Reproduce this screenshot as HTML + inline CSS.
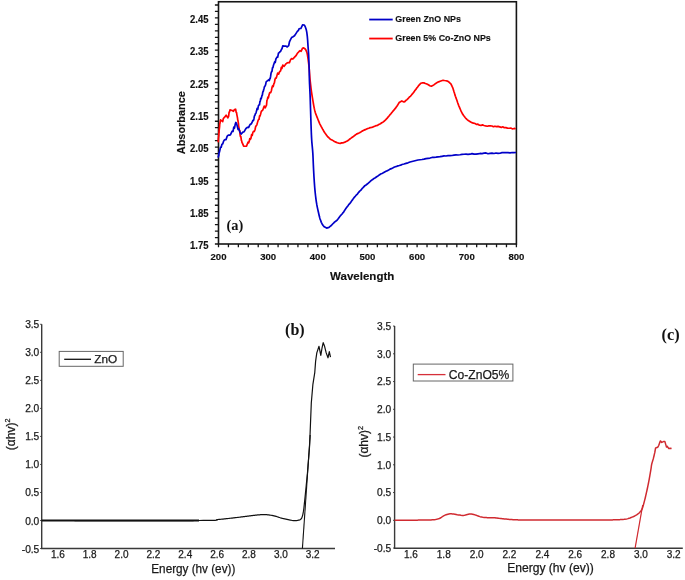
<!DOCTYPE html>
<html><head><meta charset="utf-8"><style>
html,body{margin:0;padding:0;background:#fff;}
body{width:685px;height:580px;overflow:hidden;}
svg{display:block;}
svg{will-change:transform;}
.ab{font-family:"Liberation Sans",sans-serif;font-weight:bold;fill:#111;stroke:#111;stroke-width:0.15px;}
.ar{font-family:"Liberation Sans",sans-serif;fill:#1a1a1a;stroke:#1a1a1a;stroke-width:0.25px;}
.sb{font-family:"Liberation Serif",serif;font-weight:bold;fill:#111;}
</style></head><body>
<svg width="685" height="580" viewBox="0 0 685 580">
<rect x="218.5" y="1.75" width="297.90" height="242.25" fill="none" stroke="#151515" stroke-width="1.6"/>
<path d="M214.9 244.00H218.5 M214.9 237.54H218.5 M214.9 231.08H218.5 M214.9 224.62H218.5 M214.9 218.16H218.5 M214.9 211.70H218.5 M214.9 205.24H218.5 M214.9 198.78H218.5 M214.9 192.32H218.5 M214.9 185.86H218.5 M214.9 179.40H218.5 M214.9 172.94H218.5 M214.9 166.48H218.5 M214.9 160.02H218.5 M214.9 153.56H218.5 M214.9 147.10H218.5 M214.9 140.64H218.5 M214.9 134.18H218.5 M214.9 127.72H218.5 M214.9 121.26H218.5 M214.9 114.80H218.5 M214.9 108.34H218.5 M214.9 101.88H218.5 M214.9 95.42H218.5 M214.9 88.96H218.5 M214.9 82.50H218.5 M214.9 76.04H218.5 M214.9 69.58H218.5 M214.9 63.12H218.5 M214.9 56.66H218.5 M214.9 50.20H218.5 M214.9 43.74H218.5 M214.9 37.28H218.5 M214.9 30.82H218.5 M214.9 24.36H218.5 M214.9 17.90H218.5 M214.9 11.44H218.5 M214.9 4.98H218.5 M218.50 244.0V247.2 M228.43 244.0V247.2 M238.36 244.0V247.2 M248.29 244.0V247.2 M258.22 244.0V247.2 M268.15 244.0V247.2 M278.08 244.0V247.2 M288.01 244.0V247.2 M297.94 244.0V247.2 M307.87 244.0V247.2 M317.80 244.0V247.2 M327.73 244.0V247.2 M337.66 244.0V247.2 M347.59 244.0V247.2 M357.52 244.0V247.2 M367.45 244.0V247.2 M377.38 244.0V247.2 M387.31 244.0V247.2 M397.24 244.0V247.2 M407.17 244.0V247.2 M417.10 244.0V247.2 M427.03 244.0V247.2 M436.96 244.0V247.2 M446.89 244.0V247.2 M456.82 244.0V247.2 M466.75 244.0V247.2 M476.68 244.0V247.2 M486.61 244.0V247.2 M496.54 244.0V247.2 M506.47 244.0V247.2 M516.40 244.0V247.2" stroke="#151515" stroke-width="1.3" fill="none"/>
<text x="208.5" y="249.20" text-anchor="end" class="ab" font-size="10.4" textLength="18.5" lengthAdjust="spacingAndGlyphs">1.75</text>
<text x="208.5" y="216.90" text-anchor="end" class="ab" font-size="10.4" textLength="18.5" lengthAdjust="spacingAndGlyphs">1.85</text>
<text x="208.5" y="184.60" text-anchor="end" class="ab" font-size="10.4" textLength="18.5" lengthAdjust="spacingAndGlyphs">1.95</text>
<text x="208.5" y="152.30" text-anchor="end" class="ab" font-size="10.4" textLength="18.5" lengthAdjust="spacingAndGlyphs">2.05</text>
<text x="208.5" y="120.00" text-anchor="end" class="ab" font-size="10.4" textLength="18.5" lengthAdjust="spacingAndGlyphs">2.15</text>
<text x="208.5" y="87.70" text-anchor="end" class="ab" font-size="10.4" textLength="18.5" lengthAdjust="spacingAndGlyphs">2.25</text>
<text x="208.5" y="55.40" text-anchor="end" class="ab" font-size="10.4" textLength="18.5" lengthAdjust="spacingAndGlyphs">2.35</text>
<text x="208.5" y="23.10" text-anchor="end" class="ab" font-size="10.4" textLength="18.5" lengthAdjust="spacingAndGlyphs">2.45</text>
<text x="218.50" y="260.4" text-anchor="middle" class="ab" font-size="9.6">200</text>
<text x="268.15" y="260.4" text-anchor="middle" class="ab" font-size="9.6">300</text>
<text x="317.80" y="260.4" text-anchor="middle" class="ab" font-size="9.6">400</text>
<text x="367.45" y="260.4" text-anchor="middle" class="ab" font-size="9.6">500</text>
<text x="417.10" y="260.4" text-anchor="middle" class="ab" font-size="9.6">600</text>
<text x="466.75" y="260.4" text-anchor="middle" class="ab" font-size="9.6">700</text>
<text x="516.40" y="260.4" text-anchor="middle" class="ab" font-size="9.6">800</text>
<text x="362.2" y="280.1" text-anchor="middle" class="ab" font-size="11.4" textLength="64.2" lengthAdjust="spacingAndGlyphs">Wavelength</text>
<text transform="translate(184.6 122.7) rotate(-90)" x="0" y="0" text-anchor="middle" class="ab" font-size="10.9" textLength="63" lengthAdjust="spacingAndGlyphs">Absorbance</text>
<text x="226.5" y="229.7" class="sb" font-size="14.4">(a)</text>
<path d="M369.2 19.55H392.7" stroke="#0000C8" stroke-width="1.8"/>
<path d="M369.2 38.55H392.7" stroke="#F00" stroke-width="1.8"/>
<text x="395.3" y="22.4" class="ab" font-size="9.8" textLength="65.6" lengthAdjust="spacingAndGlyphs">Green ZnO NPs</text>
<text x="395.3" y="41.3" class="ab" font-size="9.8" textLength="95.5" lengthAdjust="spacingAndGlyphs">Green 5% Co-ZnO NPs</text>
<polyline points="218.2,140.29 218.28,141.73 218.37,138.85 218.49,137.72 218.62,136.49 218.76,135.79 218.91,132.69 219.05,132.63 219.2,130 219.39,128.4 219.58,126.67 219.77,123.53 219.99,123.32 220.23,121.3 220.5,119.81 222.7,121.6 223.3,118.58 223.85,117.98 224.4,117.48 226.1,115.27 226.92,116.33 227.8,117.96 228.21,117.13 228.64,116.18 229.1,112.25 229.55,111.9 230,109.85 232.2,110.53 233.42,111.24 234.5,109.52 235.6,109.19 235.88,110.66 236.18,112.33 236.51,112.46 236.88,114.87 237.3,116.82 237.5,117.94 237.71,119.73 237.94,120.37 238.17,122.06 238.42,123.41 238.67,126.35 238.92,127.18 239.17,129.26 239.42,130.95 239.66,130.33 239.88,132.57 240.1,134.93 240.44,136.54 240.75,136.27 241.05,137.93 241.35,140.47 241.65,140.75 241.96,142.46 242.3,142.92 243.65,146.11 245.1,146.25 246.52,146.08 248.1,142.06 248.63,142.81 249.19,141.48 249.77,138.6 250.38,139.41 250.99,138.22 251.6,134.57 252.2,135.46 252.9,132.4 253.6,131.34 254.3,131.54 255,129.74 255.7,126.32 256.4,125.59 256.93,124.57 257.46,122.64 258,120.75 258.54,119.62 259.06,119.36 259.57,115.83 260.05,116.13 260.5,114.62 261.29,111.4 261.99,110.72 262.64,110.21 263.3,108.64 264.26,106.02 265.2,107.83 266,106.07 266.53,105.01 266.92,100.59 267.4,99.2 267.87,97.14 268.4,97.96 268.98,94.98 269.6,92.99 270.15,92.5 270.75,92.53 271.37,90.76 271.99,87.57 272.6,85.75 273.2,86.55 273.8,83.95 274.4,82.8 274.97,79.5 275.5,78.07 276.26,78.07 276.94,75.64 277.7,73.02 278.64,74.07 279.66,71.68 280.6,70.8 281.3,67.37 281.93,68.49 282.8,65 284.1,66.37 285.65,64.18 287.2,62.82 288.32,62.57 289.44,62.73 290.55,59.82 291.6,58.59 292.89,59.05 294.1,57.62 295.3,56.33 296.24,55.32 297.19,53.53 298.1,52.54 298.9,51.74 300.06,50.65 301.1,51.28 302.44,48.39 303.7,47.9 305.2,49 306.03,50.3 306.8,52.1 307.17,53.53 307.48,55.19 307.8,57.2 308.02,58.66 308.25,60.29 308.48,62.03 308.7,63.79 308.9,65.5 309.07,67.19 309.22,68.92 309.35,70.63 309.48,72.27 309.6,73.8 309.72,75.4 309.82,76.78 309.93,78.21 310.1,80 310.23,81.26 310.38,82.64 310.54,84.12 310.72,85.66 310.91,87.23 311.1,88.79 311.3,90.3 311.5,91.78 311.72,93.27 311.94,94.76 312.17,96.24 312.4,97.73 312.65,99.22 312.9,100.7 313.16,102.2 313.42,103.74 313.7,105.28 313.98,106.8 314.27,108.28 314.58,109.69 314.9,111 315.37,112.65 315.87,114.14 316.4,115.53 316.94,116.89 317.5,118.3 318.07,119.74 318.65,121.18 319.26,122.62 319.9,124.06 320.6,125.37 321.24,126.68 321.92,127.81 322.64,129.18 323.37,130.33 324.09,131.8 324.8,132.82 325.86,134.18 326.92,135.66 327.95,137.06 328.9,137.74 330.28,139.2 332,139.97 333.11,140.63 334.41,141.54 335.83,142.12 337.32,142.78 338.8,143.18 340.25,143.33 341.72,142.93 343.24,142.78 344.86,142.17 346.6,141.35 347.64,140.68 348.74,139.95 349.88,139.02 351.05,138.17 352.24,137.23 353.44,136.58 354.65,135.49 355.83,134.61 357,133.83 358.28,133.38 359.55,132.68 360.82,131.92 362.08,131.12 363.35,130.48 364.64,129.9 365.96,129.37 367.3,128.66 368.71,128.21 370.21,127.59 371.74,127.35 373.29,126.84 374.8,126.16 376.25,125.54 377.59,125.31 378.8,124.52 380.42,123.73 381.76,122.81 382.93,122.15 384.07,121.28 385.3,120.2 386.26,119.14 387.24,118.2 388.24,116.86 389.22,115.78 390.17,114.55 391.07,113.56 391.9,112.42 392.94,111.17 393.87,110.15 394.72,109.06 395.53,108.18 396.3,107.11 397.23,105.8 398.09,104.33 398.88,103.06 399.6,102.15 401.8,100.96 403.9,101.93 404.78,101.63 405.86,100.44 407.04,99.61 408.25,98.42 409.4,97.02 410.33,96.34 411.27,95.3 412.22,94.08 413.15,92.99 414.05,91.9 414.9,90.56 415.87,89.42 416.79,88.08 417.67,86.93 418.51,85.76 419.3,84.83 420.96,83.21 422.6,82.76 423.96,82.88 425.42,83.49 426.9,83.99 428.36,84.78 429.83,85.77 431.3,86.24 432.77,85.53 434.23,84.64 435.7,83.42 437.17,82.61 438.63,81.85 440.1,81.27 441.57,80.74 443.04,80.25 444.5,80.52 445.98,80.72 447.44,81.1 448.8,81.91 449.97,83.02 451.04,84.15 452.1,86.39 452.56,87.3 453.01,88.47 453.46,89.91 453.91,91.55 454.38,92.86 454.87,94.63 455.4,96.29 455.84,97.36 456.3,98.66 456.79,100.1 457.28,101.6 457.78,103.06 458.29,104.41 458.8,105.78 459.31,106.84 459.8,108.06 460.51,109.74 461.19,111.45 461.87,112.68 462.58,114.11 463.35,115.13 464.2,116.32 465.14,117.52 466.13,118.71 467.17,119.67 468.29,120.54 469.46,121.19 470.7,122.01 472.01,122.61 473.39,123.16 474.82,123.32 476.33,124.43 477.89,124.18 479.5,125.23 480.95,125.46 482.46,124.86 484.02,125.45 485.61,125.94 487.22,126.22 488.82,125.9 490.4,125.89 491.94,125.98 493.44,126.76 494.94,126.2 496.46,126.63 498.02,126.35 499.66,126.84 501.4,127.41 502.75,126.83 504.26,127.65 505.87,127.59 507.53,128.16 509.19,128.24 510.79,128.05 512.28,128.87 513.62,128.7 514.74,128.45 515.6,129" fill="none" stroke="#F00" stroke-width="1.7" stroke-linejoin="round"/>
<polyline points="218.2,157.67 218.41,156.07 218.7,156.02 219.06,152.5 219.46,152.09 219.9,150 220.51,147.4 221.19,147.18 221.93,144.28 222.7,144 223.51,141.43 224.37,140.03 225.24,139.64 226.1,139.58 227.23,136.02 228.34,135.06 229.4,135.08 230.39,134.94 231.32,132.8 232.2,131.09 233.04,131.38 233.82,127 234.5,127.98 235.26,124.08 235.9,122.43 236.58,123.63 237.3,126.33 238.1,129.5 239,129.24 240.1,132.42 241.2,134.02 242.9,132.12 244.17,131.7 245.7,128.89 246.59,127.94 247.56,127.27 248.55,127.52 249.5,125.58 250.38,124.2 251.22,124.03 252.05,122.46 252.9,120.4 253.4,120.66 253.92,118.92 254.43,115.95 254.95,115.29 255.46,113.53 255.94,113.09 256.4,111.39 257.13,108.45 257.79,109.35 258.44,105.61 259.1,104.95 259.5,104.8 259.9,101.66 260.3,101.25 260.71,98.43 261.11,98.83 261.51,97.66 261.9,95.72 262.35,95.09 262.8,91.86 263.24,91.5 263.67,89.74 264.09,88.32 264.5,86.67 265.08,86.01 265.62,84.64 266.16,81.82 266.7,81.39 268.9,79.58 269.33,80.54 269.75,79.02 270.17,78.46 270.62,76.24 271.1,72.95 271.53,71.88 271.99,71.28 272.46,67.86 272.95,67.67 273.46,65.29 274,63.65 274.59,61.96 275.23,62.51 275.89,59.01 276.55,57.85 277.16,56.88 277.7,57.11 278.52,52.98 279.17,52.8 279.9,51.75 280.57,51.4 281.3,49.73 282.05,48.52 282.8,45.84 284.3,46.06 285.8,46.08 287.26,46.92 288.7,45.67 289.43,41.97 290.15,40.42 290.88,38.95 291.6,37.6 293.04,36.72 294.5,35.77 296.09,33.35 297.5,31.11 298.31,30.7 298.9,29.11 300.1,28.5 300.9,28.5 301.86,26.29 302.7,24.75 304.2,25.05 305.03,26.24 305.8,28.3 306.19,29.55 306.51,30.86 306.8,32.4 307,33.78 307.18,35.3 307.35,36.92 307.5,38.6 307.61,39.98 307.71,41.4 307.8,42.86 307.9,44.36 308,45.9 308.12,47.5 308.25,49.16 308.38,50.84 308.5,52.5 308.6,54.1 308.68,55.6 308.74,57.04 308.79,58.45 308.84,59.89 308.9,61.4 308.96,62.96 309.02,64.55 309.09,66.19 309.15,67.9 309.2,69.7 309.23,71.02 309.25,72.35 309.27,73.7 309.28,75.12 309.31,76.62 309.35,78.24 309.4,80 309.45,81.21 309.5,82.5 309.56,83.85 309.63,85.25 309.7,86.69 309.77,88.16 309.84,89.64 309.91,91.13 309.98,92.61 310.04,94.07 310.1,95.5 310.15,96.91 310.2,98.32 310.25,99.72 310.3,101.13 310.34,102.54 310.38,103.95 310.43,105.36 310.47,106.77 310.51,108.18 310.56,109.59 310.6,111 310.65,112.42 310.69,113.86 310.73,115.31 310.78,116.76 310.82,118.21 310.87,119.65 310.91,121.09 310.96,122.5 311,123.9 311.05,125.26 311.1,126.6 311.16,128.19 311.22,129.74 311.27,131.25 311.33,132.73 311.39,134.2 311.46,135.65 311.53,137.1 311.61,138.55 311.7,140 311.8,141.45 311.92,142.9 312.05,144.33 312.18,145.76 312.32,147.19 312.45,148.61 312.58,150.04 312.7,151.47 312.8,152.9 312.89,154.34 312.97,155.78 313.03,157.23 313.1,158.68 313.15,160.12 313.21,161.57 313.27,163.02 313.33,164.46 313.4,165.9 313.47,167.34 313.54,168.77 313.61,170.21 313.69,171.64 313.76,173.07 313.84,174.5 313.92,175.94 314.01,177.37 314.1,178.8 314.2,180.24 314.29,181.69 314.39,183.14 314.5,184.6 314.6,186.05 314.72,187.49 314.84,188.91 314.97,190.32 315.1,191.7 315.26,193.23 315.43,194.75 315.6,196.25 315.78,197.72 315.97,199.18 316.17,200.62 316.38,202.02 316.6,203.4 316.87,204.97 317.18,206.54 317.49,208.08 317.82,209.58 318.13,211 318.43,212.31 318.7,213.5 319.09,215.22 319.41,216.59 319.73,217.8 320.1,219.07 320.68,220.48 321.32,222.37 322,223.71 323.12,225.5 324.3,226.82 326.6,228.06 329,227.36 330.12,226.42 331.3,225.55 332.64,223.98 334.1,222.53 335.18,221.68 336.32,220.76 337.4,219.84 338.37,218.54 339.29,217.24 340.2,216.06 341.14,214.93 342.08,213.98 343,212.71 343.65,212.08 344.27,210.95 345.6,208.86 346.24,208.04 346.98,207.07 347.82,205.95 348.72,204.63 349.68,203.65 350.66,202.41 351.65,200.9 352.64,199.63 353.59,198.26 354.5,197.14 355.5,196.03 356.54,194.78 357.6,193.79 358.66,192.33 359.69,191.13 360.67,190.42 361.58,189.26 362.4,188.22 363.1,187.62 364.84,185.68 366,184.94 367.25,184.03 368.63,182.83 370,181.64 371.33,180.42 372.67,179.46 374,178.41 375.33,177.71 376.67,176.72 378,175.94 379.33,174.92 380.67,174.07 382,173.52 383.33,172.84 384.67,172.06 386,171.34 387.33,170.67 388.67,169.98 390,169.15 391.33,168.66 392.67,168.01 394,167.31 395.33,166.77 396.67,166.34 398,165.83 399.33,165.51 400.67,165.14 402,164.48 404,164.03 406,163.43 408,162.83 410,162.04 412,161.46 414,160.96 416,160.48 418,160.03 420,159.78 422,159.49 424,159.08 426,158.58 428,158.31 430,158.04 432,157.45 434,157.39 436,157.21 438,156.9 440,156.64 442,156.3 444,155.96 446,155.99 448,155.61 450,155.61 452,155.5 454,155.1 456,154.94 458,155.01 460,154.78 462,154.42 464,154.27 466,154.16 468,154.35 470,154.2 472,153.65 474,154.17 476,154.21 478,153.83 480,153.47 482,153.57 484,153.12 486,152.94 488,153.74 490,153.38 492,153.21 494,153.52 496,153.02 498,153.36 500,153.27 502,152.67 504,152.66 506,152.66 508,152.57 510,152.85 512.12,152.53 514,152.63 516,152.5" fill="none" stroke="#0000C8" stroke-width="1.7" stroke-linejoin="round"/>
<path d="M41.7 324.3V548.5H335.0" fill="none" stroke="#3a3a3a" stroke-width="1.4"/>
<path d="M40.2 324.29H41.7 M40.2 352.32H41.7 M40.2 380.35H41.7 M40.2 408.38H41.7 M40.2 436.41H41.7 M40.2 464.44H41.7 M40.2 492.47H41.7 M40.2 520.50H41.7 M40.2 548.53H41.7" stroke="#333" stroke-width="1"/>
<text x="39.3" y="328.29" text-anchor="end" class="ar" font-size="10.2">3.5</text>
<text x="39.3" y="356.32" text-anchor="end" class="ar" font-size="10.2">3.0</text>
<text x="39.3" y="384.35" text-anchor="end" class="ar" font-size="10.2">2.5</text>
<text x="39.3" y="412.38" text-anchor="end" class="ar" font-size="10.2">2.0</text>
<text x="39.3" y="440.41" text-anchor="end" class="ar" font-size="10.2">1.5</text>
<text x="39.3" y="468.44" text-anchor="end" class="ar" font-size="10.2">1.0</text>
<text x="39.3" y="496.47" text-anchor="end" class="ar" font-size="10.2">0.5</text>
<text x="39.3" y="524.50" text-anchor="end" class="ar" font-size="10.2">0.0</text>
<text x="39.3" y="552.53" text-anchor="end" class="ar" font-size="10.2">-0.5</text>
<text x="57.83" y="557.8" text-anchor="middle" class="ar" font-size="10">1.6</text>
<text x="89.69" y="557.8" text-anchor="middle" class="ar" font-size="10">1.8</text>
<text x="121.55" y="557.8" text-anchor="middle" class="ar" font-size="10">2.0</text>
<text x="153.41" y="557.8" text-anchor="middle" class="ar" font-size="10">2.2</text>
<text x="185.27" y="557.8" text-anchor="middle" class="ar" font-size="10">2.4</text>
<text x="217.13" y="557.8" text-anchor="middle" class="ar" font-size="10">2.6</text>
<text x="248.99" y="557.8" text-anchor="middle" class="ar" font-size="10">2.8</text>
<text x="280.85" y="557.8" text-anchor="middle" class="ar" font-size="10">3.0</text>
<text x="312.71" y="557.8" text-anchor="middle" class="ar" font-size="10">3.2</text>
<text x="193.3" y="573.2" text-anchor="middle" class="ar" font-size="12" textLength="84" lengthAdjust="spacingAndGlyphs">Energy (hv (ev))</text>
<text transform="translate(14.6 450.2) rotate(-90)" class="ar" font-size="12">(αhv)<tspan font-size="7.2" dy="-4.7">2</tspan></text>
<text x="285.1" y="334.6" class="sb" font-size="16">(b)</text>
<rect x="59.2" y="351.4" width="64" height="14.9" fill="#fff" stroke="#666" stroke-width="1"/>
<path d="M64.2 359.3H91" stroke="#111" stroke-width="1.3"/>
<text x="94.2" y="363.4" class="ar" font-size="11.8">ZnO</text>
<polyline points="41.7,520.5 42.21,520.5 42.74,520.5 43.28,520.5 43.85,520.5 44.43,520.5 45.03,520.5 45.64,520.5 46.28,520.5 46.92,520.5 47.59,520.5 48.27,520.5 48.97,520.5 49.68,520.5 50.41,520.5 51.15,520.5 51.91,520.5 52.68,520.51 53.47,520.51 54.27,520.51 55.09,520.51 55.92,520.51 56.76,520.51 57.62,520.51 58.49,520.51 59.37,520.51 60.26,520.51 61.17,520.51 62.09,520.51 63.02,520.51 63.97,520.51 64.92,520.52 65.89,520.52 66.86,520.52 67.85,520.52 68.85,520.52 69.86,520.52 70.88,520.52 71.91,520.52 72.95,520.52 73.99,520.52 75.05,520.53 76.12,520.53 77.19,520.53 78.27,520.53 79.37,520.53 80.47,520.53 81.57,520.53 82.69,520.53 83.81,520.53 84.94,520.53 86.08,520.54 87.22,520.54 88.37,520.54 89.53,520.54 90.69,520.54 91.86,520.54 93.03,520.54 94.21,520.54 95.39,520.54 96.58,520.55 97.77,520.55 98.97,520.55 100.17,520.55 101.38,520.55 102.59,520.55 103.8,520.55 105.02,520.55 106.24,520.55 107.46,520.55 108.68,520.56 109.91,520.56 111.14,520.56 112.37,520.56 113.6,520.56 114.84,520.56 116.07,520.56 117.31,520.56 118.54,520.56 119.78,520.56 121.02,520.56 122.26,520.56 123.49,520.57 124.73,520.57 125.97,520.57 127.2,520.57 128.44,520.57 129.67,520.57 130.9,520.57 132.13,520.57 133.36,520.57 134.58,520.57 135.81,520.57 137.03,520.57 138.24,520.57 139.46,520.57 140.67,520.57 141.88,520.57 143.08,520.57 144.28,520.57 145.47,520.57 146.66,520.57 147.85,520.57 149.03,520.57 150.2,520.57 151.37,520.57 152.54,520.57 153.7,520.57 154.85,520.57 155.99,520.57 157.13,520.57 158.27,520.57 159.39,520.57 160.51,520.57 161.62,520.57 162.72,520.57 163.82,520.57 164.9,520.57 165.98,520.57 167.05,520.57 168.11,520.57 169.16,520.57 170.2,520.57 171.24,520.57 172.26,520.57 173.27,520.56 174.27,520.56 175.27,520.56 176.25,520.56 177.22,520.56 178.18,520.56 179.12,520.56 180.06,520.56 180.98,520.55 181.89,520.55 182.79,520.55 183.68,520.55 184.56,520.55 185.42,520.55 186.26,520.54 187.1,520.54 187.92,520.54 188.73,520.54 189.52,520.54 190.3,520.53 191.06,520.53 191.81,520.53 192.54,520.53 193.26,520.53 193.96,520.52 194.65,520.52 195.32,520.52 195.98,520.51 196.62,520.51 197.24,520.51 197.84,520.51 198.43,520.5 199,520.5 203.27,520.47 206.83,520.44 209.74,520.41 212.08,520.37 213.88,520.33 215.23,520.29 216.17,520.25 216.76,520.2 217.08,520.15 217.17,520.1 217.1,520.04 216.94,519.98 216.73,519.92 216.54,519.86 216.43,519.79 216.46,519.72 216.69,519.65 217.18,519.58 218,519.5 219,519.42 220.01,519.33 221.03,519.24 222.05,519.14 223.08,519.04 224.1,518.94 225.13,518.83 226.15,518.72 227.18,518.61 228.2,518.5 229.21,518.39 230.21,518.27 231.21,518.16 232.19,518.04 233.17,517.93 234.12,517.82 235.07,517.71 235.99,517.6 236.9,517.5 238.03,517.37 239.14,517.23 240.24,517.1 241.32,516.96 242.38,516.83 243.43,516.69 244.46,516.55 245.47,516.42 246.47,516.29 247.45,516.16 248.42,516.04 249.36,515.92 250.29,515.81 251.2,515.7 252.1,515.6 253.29,515.47 254.43,515.34 255.53,515.21 256.61,515.09 257.65,514.97 258.66,514.87 259.65,514.78 260.63,514.7 261.59,514.65 262.55,514.61 263.5,514.6 264.64,514.61 265.74,514.65 266.81,514.72 267.85,514.81 268.88,514.92 269.9,515.06 270.93,515.22 271.95,515.4 273,515.6 274.06,515.84 275.11,516.12 276.17,516.43 277.22,516.76 278.28,517.11 279.33,517.46 280.39,517.8 281.44,518.11 282.5,518.4 283.58,518.67 284.71,518.93 285.86,519.19 287.01,519.44 288.13,519.68 289.22,519.9 290.24,520.09 291.17,520.26 292,520.4 293.49,520.59 294.6,520.66 295.49,520.64 296.3,520.6 297.55,520.44 298.6,520.1 299.98,519.8 301.3,518.8 301.67,518.12 302.01,517.31 302.33,516.37 302.63,515.29 302.92,514.07 303.2,512.7 303.34,511.94 303.47,511.2 303.58,510.46 303.69,509.7 303.79,508.89 303.9,508 304.01,507.01 304.13,505.89 304.27,504.62 304.42,503.16 304.6,501.5 304.68,500.74 304.77,499.9 304.87,498.99 304.97,498.01 305.07,496.98 305.18,495.9 305.3,494.78 305.41,493.62 305.53,492.43 305.66,491.22 305.78,489.99 305.9,488.76 306.03,487.52 306.15,486.28 306.27,485.06 306.39,483.85 306.51,482.67 306.62,481.52 306.73,480.41 306.84,479.34 306.94,478.33 307.03,477.37 307.12,476.48 307.2,475.66 307.28,474.92 307.34,474.26 307.4,473.7 309.6,445.8 311.3,403 312.9,384.3 314.8,372.3 315.6,361.4 316.8,352.9 319,346.3 319.6,349.3 320.8,355.4 322,348.1 323.2,342.7 324.4,345.7 326.2,352.9 328,357.8 329.3,351.7 330.5,357.2" fill="none" stroke="#111" stroke-width="1.2" stroke-linejoin="round"/>
<path d="M41.7 520.5H199" stroke="#111" stroke-width="1.8"/>
<path d="M302.4 548.5L310.2 435" stroke="#111" stroke-width="1.1"/>
<path d="M394.6 326.0V548.2H682.8" fill="none" stroke="#3a3a3a" stroke-width="1.4"/>
<path d="M393.1 326.05H394.6 M393.1 353.80H394.6 M393.1 381.55H394.6 M393.1 409.30H394.6 M393.1 437.05H394.6 M393.1 464.80H394.6 M393.1 492.55H394.6 M393.1 520.30H394.6 M393.1 548.05H394.6" stroke="#333" stroke-width="1"/>
<text x="391.2" y="329.85" text-anchor="end" class="ar" font-size="10.2">3.5</text>
<text x="391.2" y="357.60" text-anchor="end" class="ar" font-size="10.2">3.0</text>
<text x="391.2" y="385.35" text-anchor="end" class="ar" font-size="10.2">2.5</text>
<text x="391.2" y="413.10" text-anchor="end" class="ar" font-size="10.2">2.0</text>
<text x="391.2" y="440.85" text-anchor="end" class="ar" font-size="10.2">1.5</text>
<text x="391.2" y="468.60" text-anchor="end" class="ar" font-size="10.2">1.0</text>
<text x="391.2" y="496.35" text-anchor="end" class="ar" font-size="10.2">0.5</text>
<text x="391.2" y="524.10" text-anchor="end" class="ar" font-size="10.2">0.0</text>
<text x="391.2" y="551.85" text-anchor="end" class="ar" font-size="10.2">-0.5</text>
<text x="410.93" y="557.8" text-anchor="middle" class="ar" font-size="10">1.6</text>
<text x="443.77" y="557.8" text-anchor="middle" class="ar" font-size="10">1.8</text>
<text x="476.62" y="557.8" text-anchor="middle" class="ar" font-size="10">2.0</text>
<text x="509.48" y="557.8" text-anchor="middle" class="ar" font-size="10">2.2</text>
<text x="542.33" y="557.8" text-anchor="middle" class="ar" font-size="10">2.4</text>
<text x="575.17" y="557.8" text-anchor="middle" class="ar" font-size="10">2.6</text>
<text x="608.03" y="557.8" text-anchor="middle" class="ar" font-size="10">2.8</text>
<text x="640.88" y="557.8" text-anchor="middle" class="ar" font-size="10">3.0</text>
<text x="673.73" y="557.8" text-anchor="middle" class="ar" font-size="10">3.2</text>
<text x="550.5" y="572.4" text-anchor="middle" class="ar" font-size="12" textLength="86.6" lengthAdjust="spacingAndGlyphs">Energy (hv (ev))</text>
<text transform="translate(367.6 457.6) rotate(-90)" class="ar" font-size="12">(αhv)<tspan font-size="7.2" dy="-4.7">2</tspan></text>
<text x="661.6" y="339.6" class="sb" font-size="16.3">(c)</text>
<rect x="413.3" y="364.1" width="99.6" height="16.9" fill="#fff" stroke="#666" stroke-width="1"/>
<path d="M417.7 374.6H445.5" stroke="#D6303A" stroke-width="1.3"/>
<text x="448.8" y="378.7" class="ar" font-size="12.1">Co-ZnO5%</text>
<polyline points="394.6,520.3 395.16,520.3 395.81,520.29 396.55,520.29 397.37,520.28 398.26,520.27 399.21,520.27 400.22,520.26 401.29,520.25 402.39,520.25 403.54,520.24 404.71,520.23 405.9,520.22 407.1,520.21 408.32,520.21 409.53,520.2 410.73,520.19 411.92,520.18 413.09,520.17 414.22,520.16 415.32,520.15 416.37,520.14 417.38,520.13 418.32,520.12 419.2,520.11 420,520.1 421.53,520.08 422.94,520.07 424.23,520.06 425.43,520.04 426.55,520.03 427.58,520.02 428.55,520 429.47,519.98 430.34,519.95 431.18,519.91 431.99,519.86 432.8,519.8 434.27,519.66 435.5,519.5 436.55,519.31 437.49,519.09 438.39,518.82 439.3,518.5 440.37,518 441.34,517.39 442.26,516.74 443.17,516.12 444.1,515.6 445.06,515.17 446.02,514.79 446.98,514.46 447.94,514.2 448.9,514 450.1,513.87 451.3,513.84 452.5,513.9 453.7,514 454.9,514.17 456.09,514.42 457.29,514.68 458.5,514.9 459.74,515.09 461,515.26 462.24,515.38 463.4,515.4 464.46,515.26 465.46,515.01 466.42,514.73 467.4,514.5 468.38,514.3 469.35,514.11 470.34,513.99 471.4,514 472.54,514.19 473.75,514.52 474.98,514.91 476.2,515.3 477.13,515.61 478.04,515.96 478.96,516.3 479.94,516.63 481,516.9 481.97,517.09 483.01,517.26 484.09,517.4 485.2,517.52 486.31,517.62 487.4,517.7 488.48,517.74 489.56,517.73 490.65,517.7 491.74,517.67 492.82,517.66 493.9,517.7 494.95,517.79 495.98,517.91 497.01,518.05 498.05,518.2 499.14,518.36 500.3,518.5 501.22,518.6 502.19,518.71 503.18,518.81 504.19,518.92 505.22,519.02 506.26,519.12 507.28,519.21 508.3,519.3 509.27,519.38 510.19,519.45 511.09,519.52 512,519.58 512.96,519.64 513.99,519.7 515.12,519.75 516.4,519.8 517.11,519.83 517.62,519.86 518.01,519.89 518.33,519.92 518.66,519.95 519.07,519.97 519.63,520 520.41,520.02 521.48,520.04 522.9,520.06 524.75,520.08 527.09,520.09 530,520.1 530.61,520.1 531.26,520.1 531.94,520.1 532.65,520.1 533.39,520.11 534.16,520.11 534.96,520.11 535.79,520.11 536.64,520.11 537.52,520.11 538.42,520.11 539.35,520.11 540.3,520.11 541.27,520.11 542.26,520.11 543.27,520.11 544.3,520.11 545.35,520.11 546.41,520.1 547.49,520.1 548.59,520.1 549.7,520.1 550.82,520.1 551.95,520.1 553.09,520.1 554.25,520.1 555.41,520.1 556.58,520.09 557.76,520.09 558.94,520.09 560.13,520.09 561.32,520.09 562.52,520.09 563.71,520.08 564.91,520.08 566.11,520.08 567.31,520.08 568.51,520.08 569.7,520.07 570.89,520.07 572.07,520.07 573.25,520.07 574.43,520.06 575.59,520.06 576.75,520.06 577.89,520.06 579.03,520.05 580.15,520.05 581.27,520.05 582.36,520.05 583.45,520.05 584.52,520.04 585.57,520.04 586.6,520.04 587.62,520.04 588.62,520.03 589.59,520.03 590.55,520.03 591.48,520.03 592.39,520.02 593.28,520.02 594.14,520.02 594.97,520.02 595.78,520.01 596.56,520.01 597.31,520.01 598.03,520.01 598.72,520 599.38,520 600,520 602.61,519.99 604.82,519.98 606.65,519.97 608.15,519.96 609.37,519.94 610.34,519.93 611.11,519.92 611.73,519.91 612.22,519.89 612.63,519.88 613.01,519.86 613.39,519.85 613.82,519.83 614.35,519.82 615,519.8 616.44,519.77 617.64,519.73 618.66,519.69 619.56,519.65 620.38,519.61 621.17,519.56 622,519.5 623.11,519.42 624.1,519.35 625.02,519.26 625.97,519.12 627,518.9 627.97,518.64 629,518.31 630.06,517.95 631.11,517.56 632.1,517.17 633,516.8 634.18,516.25 635.22,515.69 636.15,515.14 637,514.6 637.97,513.93 638.77,513.27 639.5,512.6 640.48,511.52 641.3,510.4 641.95,509.27 642.5,508 642.81,507.1 643.1,506.1 643.5,504.6 643.7,503.86 643.92,503.03 644.16,502.13 644.41,501.17 644.68,500.15 644.95,499.07 645.22,497.95 645.5,496.8 645.71,495.91 645.92,494.96 646.15,493.97 646.38,492.93 646.61,491.88 646.85,490.82 647.08,489.77 647.3,488.73 647.51,487.74 647.71,486.79 647.9,485.9 648.16,484.64 648.39,483.49 648.6,482.42 648.8,481.39 648.99,480.35 649.19,479.27 649.4,478.1 649.58,477.11 649.77,476.04 649.96,474.94 650.15,473.81 650.35,472.69 650.53,471.61 650.7,470.58 650.86,469.64 651,468.8 651.22,467.34 651.35,466.26 651.48,465.3 651.7,464.2 651.96,463.17 652.28,462.1 652.62,460.99 652.97,459.86 653.3,458.7 653.57,457.64 653.86,456.46 654.15,455.26 654.41,454.13 654.64,453.18 654.8,452.5 655.6,447.9 657,447.6 658,446.8 658.7,445.5 660.3,440.9 661.8,442.4 663.4,441.6 664.9,441.6 666.5,447.1 667.3,446.3 668.8,448.6 670.1,448.3 671.6,448.6" fill="none" stroke="#D02A30" stroke-width="1.5" stroke-linejoin="round"/>
<path d="M635.1 548.2L642.7 505" stroke="#D02A30" stroke-width="1.2"/>
</svg>
</body></html>
